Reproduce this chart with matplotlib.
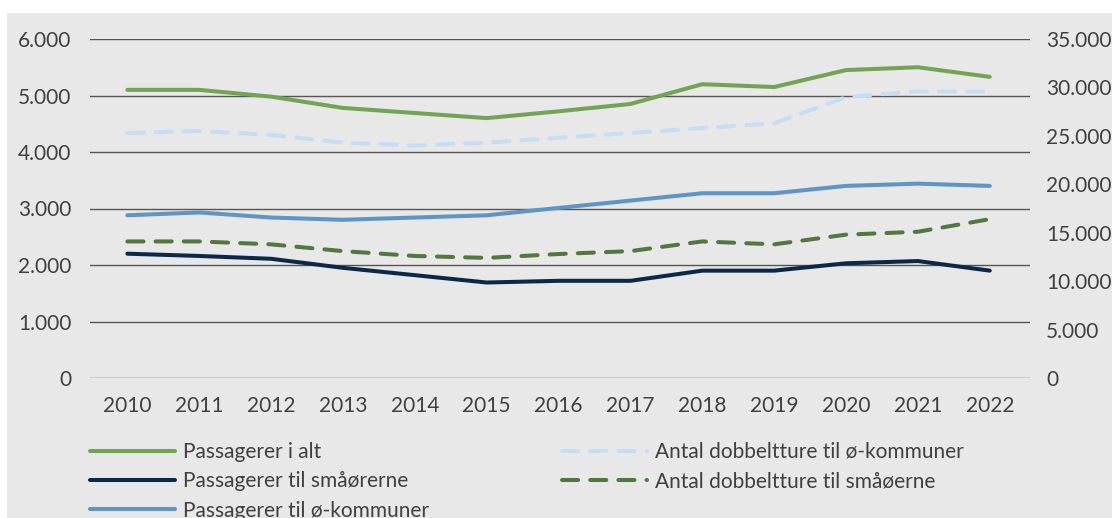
import matplotlib
matplotlib.use("Agg")
import matplotlib.pyplot as plt
from matplotlib.patches import Rectangle
from matplotlib.ticker import FuncFormatter

plt.rcParams['font.family'] = ['Lato', 'DejaVu Sans']

# Data
years = ["2010", "2011", "2012", "2013", "2014", "2015", "2016",
         "2017", "2018", "2019", "2020", "2021", "2022"]
pass_total = [5100, 5100, 4980, 4780, 4690, 4600, 4720, 4850, 5200, 5150, 5450, 5500, 5330]
pass_smaaoer = [2200, 2160, 2110, 1950, 1820, 1690, 1720, 1720, 1900, 1900, 2030, 2070, 1900]
pass_oekommuner = [2880, 2930, 2840, 2800, 2840, 2880, 3010, 3140, 3270, 3270, 3400, 3440, 3400]
dobbelt_oekommuner = [25300, 25500, 25100, 24300, 24000, 24300, 24800, 25300, 25800, 26300, 29000, 29600, 29600]
dobbelt_smaaoer = [14100, 14100, 13800, 13100, 12600, 12400, 12800, 13100, 14100, 13800, 14800, 15100, 16400]

bg = "#e7e8e7"
txt = "#404040"
lw = 2.9
x = range(len(years))

fig = plt.figure(figsize=(11.12, 5.18), dpi=100, facecolor="white")
fig.patches.append(Rectangle((7 / 1112, 0), 1, 1 - 13 / 518, transform=fig.transFigure,
                             facecolor=bg, edgecolor="none", zorder=-10))
ax = fig.add_axes([90 / 1112, 1 - 378 / 518, 940 / 1112, 339 / 518])
ax.set_facecolor(bg)
ax.patch.set_alpha(0)
ax2 = ax.twinx()

fmt = FuncFormatter(lambda v, p: f"{int(v):,}".replace(",", "."))

# Left axis lines
l1, = ax.plot(x, pass_total, color="#72a455", lw=lw, solid_capstyle="round",
              label="Passagerer i alt", zorder=3)
l2, = ax.plot(x, pass_smaaoer, color="#0b2849", lw=lw, solid_capstyle="round",
              label="Passagerer til småørerne", zorder=3)
l3, = ax.plot(x, pass_oekommuner, color="#5f95c6", lw=lw, solid_capstyle="round",
              label="Passagerer til ø-kommuner", zorder=3)

# Right axis lines
l4, = ax2.plot(x, dobbelt_oekommuner, color="#c7ddf3", lw=lw, dashes=(4, 3),
               dash_capstyle="round", label="Antal dobbeltture til ø-kommuner")
l5, = ax2.plot(x, dobbelt_smaaoer, color="#52773f", lw=lw, dashes=(4, 3),
               dash_capstyle="round", label="Antal dobbeltture til småøerne")

ax.set_xlim(-0.52, 12.56)
ax.set_ylim(0, 6000)
ax.set_yticks(range(0, 6001, 1000))
ax.yaxis.set_major_formatter(fmt)
ax.set_xticks(list(x))
ax.set_xticklabels(years)
ax.grid(axis="y", color="#555555", lw=1.0, zorder=0)
ax.set_axisbelow(True)

ax2.set_ylim(0, 35000)
ax2.set_yticks(range(0, 35001, 5000))
ax2.yaxis.set_major_formatter(fmt)

for a in (ax, ax2):
    for s in a.spines.values():
        s.set_visible(False)
ax.tick_params(axis="y", length=0, pad=13.5, labelsize=15, labelcolor=txt)
ax.tick_params(axis="x", length=0, pad=13, labelsize=15, labelcolor=txt)
ax2.tick_params(axis="y", length=0, pad=11.5, labelsize=15, labelcolor=txt)

leg = fig.legend(handles=[l1, l2, l3, l4, l5], ncol=2, loc="upper left",
                 bbox_to_anchor=(90 / 1112, 1 - 442 / 518), frameon=False,
                 fontsize=15, handlelength=4.1, handletextpad=0.35,
                 columnspacing=6.4, labelspacing=0.45, borderpad=0,
                 borderaxespad=0)
for t in leg.get_texts():
    t.set_color(txt)

fig.savefig("out.png", dpi=100, facecolor="white")
